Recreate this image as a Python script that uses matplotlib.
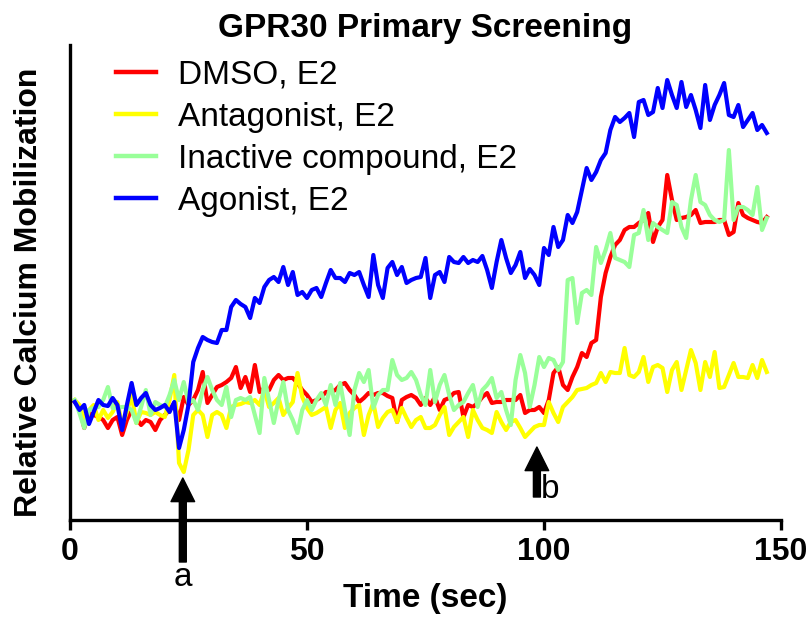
import numpy as np
import matplotlib
matplotlib.use("Agg")
import matplotlib.pyplot as plt

plt.rcParams["font.family"] = ["Liberation Sans", "DejaVu Sans"]

# time points (sec), one reading per second
time_sec = np.arange(1, 148)

# relative calcium signal, arbitrary units
dmso_e2 = [
    118, 113, 92, 107, 105, 103, 100, 92, 100, 103, 85, 100, 110, 102, 95, 100, 98, 90, 100, 105,
    110, 117, 100, 123, 115, 120, 130, 148, 117, 125, 133, 135, 138, 142, 153, 132, 143, 128, 155, 128,
    132, 130, 140, 145, 140, 142, 142, 137, 130, 125, 118, 120, 123, 128, 128, 130, 135, 137, 130, 125,
    118, 122, 127, 125, 127, 127, 124, 122, 98, 120, 123, 125, 122, 115, 122, 115, 123, 110, 120, 122,
    127, 128, 103, 115, 113, 117, 123, 127, 117, 118, 118, 120, 120, 120, 125, 107, 110, 110, 113, 107,
    120, 147, 153, 135, 130, 143, 153, 167, 163, 177, 180, 223, 247, 263, 275, 280, 290, 293, 293, 297,
    300, 307, 278, 293, 300, 345, 320, 300, 302, 303, 305, 310, 297, 298, 298, 298, 300, 300, 285, 288,
    317, 305, 302, 300, 298, 297, 303,
]

antagonist_e2 = [
    120, 115, 100, 110, 115, 100, 110, 102, 108, 118, 95, 108, 125, 97, 108, 107, 105, 108, 105, 103,
    120, 145, 57, 48, 70, 105, 110, 105, 83, 105, 108, 105, 92, 113, 115, 116, 118, 117, 120, 115,
    130, 113, 117, 122, 105, 112, 118, 147, 123, 112, 105, 107, 110, 113, 92, 110, 117, 92, 107, 112,
    115, 85, 105, 117, 93, 102, 108, 110, 98, 112, 102, 93, 100, 103, 92, 92, 95, 105, 113, 85,
    93, 98, 103, 83, 110, 100, 92, 90, 87, 108, 98, 90, 98, 100, 92, 83, 88, 93, 95, 95,
    118, 107, 98, 113, 118, 123, 130, 131, 132, 135, 137, 147, 138, 148, 147, 147, 172, 145, 143, 148,
    163, 138, 153, 155, 152, 128, 150, 158, 130, 150, 170, 157, 130, 158, 143, 168, 132, 133, 145, 157,
    143, 143, 142, 155, 142, 160, 148,
]

inactive_e2 = [
    120, 107, 92, 110, 112, 113, 120, 133, 112, 112, 113, 113, 110, 97, 113, 130, 105, 118, 115, 113,
    125, 140, 120, 138, 117, 120, 110, 130, 143, 130, 120, 115, 133, 103, 120, 122, 120, 123, 105, 87,
    142, 120, 97, 120, 138, 110, 100, 87, 110, 120, 110, 120, 127, 115, 135, 115, 137, 110, 85, 130,
    147, 138, 150, 112, 125, 130, 130, 160, 145, 140, 142, 148, 140, 125, 115, 150, 118, 135, 145, 125,
    110, 115, 118, 127, 135, 113, 130, 135, 142, 122, 128, 110, 95, 140, 165, 147, 113, 135, 163, 153,
    162, 160, 150, 158, 240, 242, 197, 227, 230, 225, 273, 257, 270, 287, 262, 260, 258, 253, 285, 287,
    310, 280, 297, 293, 290, 287, 318, 315, 293, 282, 320, 345, 318, 315, 305, 300, 298, 300, 370, 300,
    313, 313, 310, 305, 333, 290, 302,
]

agonist_e2 = [
    118, 110, 115, 96, 108, 120, 115, 114, 122, 115, 90, 115, 137, 115, 122, 127, 115, 110, 112, 115,
    108, 118, 72, 90, 115, 158, 172, 183, 180, 178, 177, 190, 190, 213, 220, 216, 213, 202, 222, 217,
    233, 240, 243, 238, 253, 235, 248, 225, 228, 222, 230, 232, 223, 237, 250, 242, 242, 238, 247, 245,
    248, 235, 223, 265, 235, 222, 252, 258, 245, 253, 237, 240, 242, 243, 262, 222, 245, 248, 238, 263,
    258, 257, 263, 257, 260, 258, 264, 250, 232, 258, 280, 262, 247, 255, 268, 242, 251, 245, 235, 272,
    265, 293, 273, 280, 305, 297, 308, 330, 352, 340, 348, 360, 367, 390, 403, 398, 402, 407, 383, 418,
    420, 405, 408, 432, 412, 440, 425, 412, 438, 413, 425, 410, 392, 435, 400, 415, 425, 437, 405, 403,
    415, 393, 400, 407, 390, 395, 387,
]

series_labels = ["DMSO, E2", "Antagonist, E2", "Inactive compound, E2", "Agonist, E2"]
series_colors = ["#ff0000", "#ffff00", "#99ff99", "#0000ff"]

# compound additions: a = test compound, b = E2
addition_times = [23.8, 98.5]
addition_labels = ["a", "b"]

fig = plt.figure(figsize=(8.11, 6.26), dpi=100)
ax = fig.add_axes([70 / 811, 106 / 626, 711 / 811, 475 / 626])

for values, label, color in zip(
    [dmso_e2, antagonist_e2, inactive_e2, agonist_e2], series_labels, series_colors
):
    ax.plot(time_sec, values, color=color, lw=3.0, label=label, solid_joinstyle="round")

ax.set_xlim(0, 150)
ax.set_ylim(0, 475)
ax.set_xticks([0, 50, 100, 150])
ax.set_yticks([])
for side in ["top", "right"]:
    ax.spines[side].set_visible(False)
for side in ["left", "bottom"]:
    ax.spines[side].set_linewidth(2.4)
ax.tick_params(axis="x", length=7, width=2.4, labelsize=23, pad=5)
for lbl in ax.get_xticklabels():
    lbl.set_fontweight("bold")

ax.set_title("GPR30 Primary Screening", fontsize=24, fontweight="bold", pad=6)
ax.set_xlabel("Time (sec)", fontsize=24, fontweight="bold", labelpad=12)
ax.set_ylabel("Relative Calcium Mobilization", fontsize=23, fontweight="bold")
ax.yaxis.set_label_coords(-0.036, 0.48)

arrow_style = dict(facecolor="black", edgecolor="black", width=5, headwidth=17, headlength=17)
# arrow a: compound added
ax.annotate("", xy=(addition_times[0], 42), xytext=(addition_times[0], -42),
            arrowprops=arrow_style, annotation_clip=False)
ax.text(addition_times[0], -58, addition_labels[0], fontsize=24, ha="center", va="center",
        clip_on=False)
# arrow b: E2 added
ax.annotate("", xy=(addition_times[1], 73), xytext=(addition_times[1], 23),
            arrowprops=arrow_style, annotation_clip=False)
ax.text(addition_times[1] + 2.8, 30, addition_labels[1], fontsize=24, ha="center", va="center")

leg = ax.legend(loc="upper left", bbox_to_anchor=(116 / 811, 1 - 60 / 626),
                bbox_transform=fig.transFigure, frameon=False, fontsize=24,
                handlelength=1.2, handletextpad=0.65, labelspacing=0.33,
                borderpad=0, borderaxespad=0)
for line in leg.get_lines():
    line.set_linewidth(3.2)

fig.savefig("out.png", dpi=100)
